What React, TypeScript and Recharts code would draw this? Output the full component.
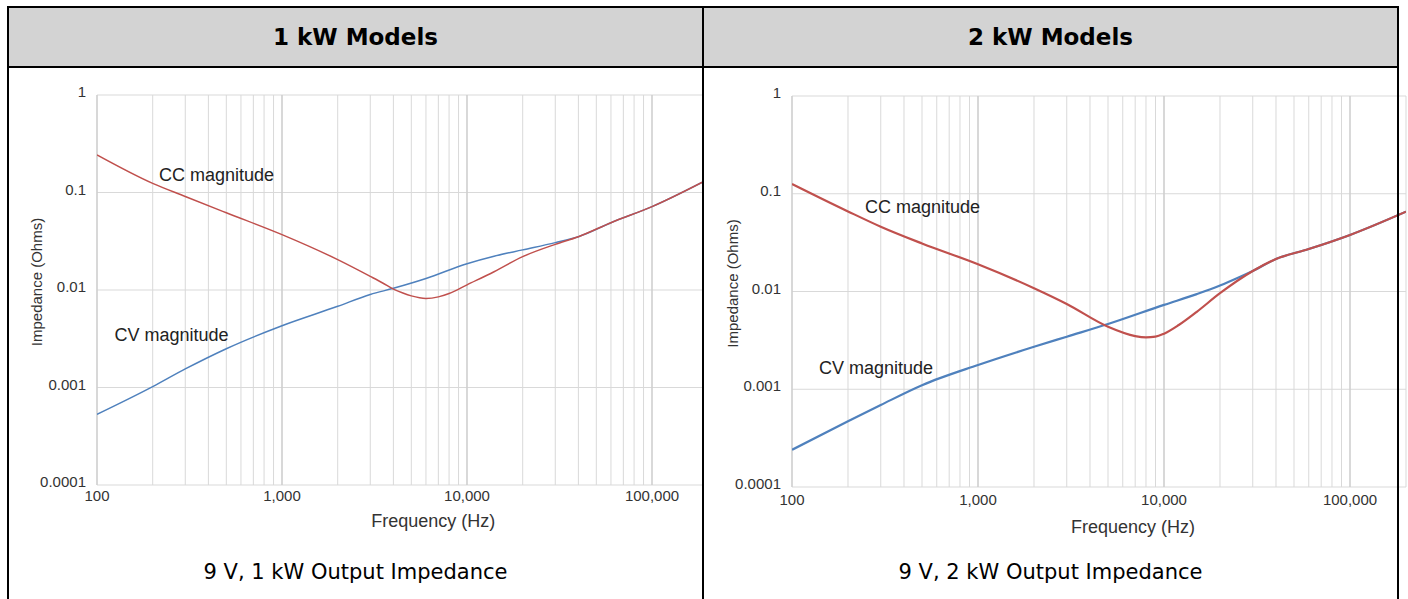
import React from 'react';
import { LineChart, Line, XAxis, YAxis, CartesianGrid, ReferenceDot, ReferenceLine } from 'recharts';

// ---- axis ticks ----
const xTicks = [
  100, 200, 300, 400, 500, 600, 700, 800, 900,
  1000, 2000, 3000, 4000, 5000, 6000, 7000, 8000, 9000,
  10000, 20000, 30000, 40000, 50000, 60000, 70000, 80000, 90000,
  100000, 200000,
];
const xLabelTicks = [100, 1000, 10000, 100000];
const yTicks = [0.0001, 0.001, 0.01, 0.1, 1];

// ---- 1 kW model ----
const cc1kFreq = [100, 200, 300, 500, 1000, 2000, 3000, 3500, 4000, 4500, 5000, 6000, 7000, 8000, 10000, 14000, 20000, 30000, 40000, 60000, 100000, 200000];
const cc1kZ = [0.243, 0.124, 0.091, 0.062, 0.037, 0.0205, 0.0138, 0.0118, 0.0102, 0.0093, 0.0087, 0.0082, 0.0085, 0.0092, 0.0113, 0.0154, 0.022, 0.0294, 0.0352, 0.049, 0.0716, 0.136];
const cv1kFreq = [100, 200, 300, 500, 1000, 2000, 3000, 4000, 6000, 10000, 14000, 20000, 30000, 40000, 60000, 100000, 200000];
const cv1kZ = [0.00053, 0.00102, 0.00155, 0.0025, 0.0043, 0.0068, 0.009, 0.0104, 0.0131, 0.0186, 0.0222, 0.0258, 0.0306, 0.0352, 0.049, 0.0716, 0.136];

// ---- 2 kW model ----
const cc2kFreq = [100, 200, 300, 500, 1000, 2000, 3000, 5000, 7000, 8000, 9000, 10000, 12000, 15000, 20000, 30000, 40000, 60000, 100000, 200000];
const cc2kZ = [0.126, 0.066, 0.046, 0.031, 0.019, 0.0108, 0.00745, 0.00436, 0.0035, 0.0034, 0.00345, 0.0037, 0.00454, 0.0062, 0.0096, 0.0162, 0.0215, 0.0272, 0.0379, 0.0656];
const cv2kFreq = [100, 200, 300, 500, 1000, 2000, 3000, 5000, 10000, 15000, 20000, 25000, 30000, 40000, 60000, 100000, 200000];
const cv2kZ = [0.00024, 0.00047, 0.00069, 0.0011, 0.00177, 0.00272, 0.00345, 0.00465, 0.0073, 0.0094, 0.0115, 0.0138, 0.0162, 0.0215, 0.0272, 0.0379, 0.0656];

const toRows = (f: number[], z: number[]) => f.map((v, i) => ({ f: v, z: z[i] }));

const RED = '#c0504d';
const BLUE = '#4f81bd';
const TXT = '#333333';
const FONT = '"Liberation Sans", Arial, sans-serif';

const XTick = (props: any) => {
  const { x, y, payload, off } = props;
  if (!xLabelTicks.includes(payload.value)) return null;
  return (
    <text x={x} y={y + off} textAnchor="middle" fontSize={15} fontFamily={FONT} fill={TXT}>
      {Number(payload.value).toLocaleString('en-US')}
    </text>
  );
};

const YTick = (props: any) => {
  const { x, y, payload } = props;
  return (
    <text x={x - 11} y={y + 2} textAnchor="end" fontSize={15} fontFamily={FONT} fill={TXT}>
      {String(payload.value)}
    </text>
  );
};

type PanelProps = {
  cc: { f: number; z: number }[];
  cv: { f: number; z: number }[];
  width: number;
  marginTop: number;
  marginRight: number;
  marginBottom: number;
  strokeW: number;
  xTickOff: number;
  ccLabel: [number, number];
  cvLabel: [number, number];
  yTitleX: number;
  xTitleDx: number;
  xTitleY: number;
};

const Panel = (p: PanelProps) => (
  <LineChart
    width={p.width}
    height={531}
    margin={{ top: p.marginTop, right: p.marginRight, bottom: p.marginBottom, left: 0 }}
  >
    <CartesianGrid stroke="#d9d9d9" strokeWidth={1} />
    {xLabelTicks.map((t) => (
      <ReferenceLine key={t} x={t} stroke="#cccccc" strokeWidth={1.2} />
    ))}
    <XAxis
      dataKey="f"
      type="number"
      scale="log"
      domain={[100, 200000]}
      ticks={xTicks}
      interval={0}
      allowDataOverflow
      axisLine={false}
      tickLine={false}
      tickSize={0}
      tickMargin={0}
      height={60}
      tick={<XTick off={p.xTickOff} />}
      label={{
        content: (lp: any) => {
          const vb = lp.viewBox;
          return (
            <text
              x={vb.x + vb.width / 2 + p.xTitleDx}
              y={vb.y + p.xTitleY}
              textAnchor="middle"
              fontSize={18}
              fontFamily={FONT}
              fill={TXT}
            >
              Frequency (Hz)
            </text>
          );
        },
      }}
    />
    <YAxis
      type="number"
      scale="log"
      domain={[0.0001, 1]}
      ticks={yTicks}
      interval={0}
      allowDataOverflow
      axisLine={false}
      tickLine={false}
      tickSize={0}
      tickMargin={0}
      width={88}
      tick={<YTick />}
      label={{
        content: (lp: any) => {
          const vb = lp.viewBox;
          const cx = p.yTitleX;
          const cy = vb.y + vb.height / 2 - 8;
          return (
            <text
              x={cx}
              y={cy}
              transform={`rotate(-90 ${cx} ${cy})`}
              textAnchor="middle"
              dominantBaseline="central"
              fontSize={15}
              fontFamily={FONT}
              fill={TXT}
            >
              Impedance (Ohms)
            </text>
          );
        },
      }}
    />
    <Line
      data={p.cv}
      dataKey="z"
      type="monotone"
      stroke={BLUE}
      strokeWidth={p.strokeW}
      dot={false}
      activeDot={false}
      isAnimationActive={false}
    />
    <Line
      data={p.cc}
      dataKey="z"
      type="monotone"
      stroke={RED}
      strokeWidth={p.strokeW}
      dot={false}
      activeDot={false}
      isAnimationActive={false}
    />
    <ReferenceDot
      x={p.ccLabel[0]}
      y={p.ccLabel[1]}
      r={0}
      stroke="none"
      fill="none"
      label={{ value: 'CC magnitude', position: 'center', fontSize: 18, fontFamily: FONT, fill: '#222' }}
    />
    <ReferenceDot
      x={p.cvLabel[0]}
      y={p.cvLabel[1]}
      r={0}
      stroke="none"
      fill="none"
      label={{ value: 'CV magnitude', position: 'center', fontSize: 18, fontFamily: FONT, fill: '#222' }}
    />
  </LineChart>
);

const abs = (s: React.CSSProperties): React.CSSProperties => ({ position: 'absolute', ...s });

export default function App() {
  return (
    <div style={abs({ left: 0, top: 0, width: 1408, height: 599, background: '#fff', overflow: 'hidden' })}>
      {/* header background */}
      <div style={abs({ left: 9, top: 8, width: 1388, height: 58, background: '#d3d3d3' })} />
      <div
        style={abs({
          left: 9, top: 8, width: 693, height: 58, display: 'flex', alignItems: 'center', justifyContent: 'center',
          fontFamily: '"DejaVu Sans", Verdana, sans-serif', fontWeight: 'bold', fontSize: 23, color: '#000',
        })}
      >
        1 kW Models
      </div>
      <div
        style={abs({
          left: 704, top: 8, width: 693, height: 58, display: 'flex', alignItems: 'center', justifyContent: 'center',
          fontFamily: '"DejaVu Sans", Verdana, sans-serif', fontWeight: 'bold', fontSize: 23, color: '#000',
        })}
      >
        2 kW Models
      </div>

      {/* left chart */}
      <div style={abs({ left: 9, top: 68, width: 693, height: 531, overflow: 'hidden' })}>
        <Panel
          cc={toRows(cc1kFreq, cc1kZ)}
          cv={toRows(cv1kFreq, cv1kZ)}
          width={700}
          marginTop={27}
          marginRight={1.3}
          marginBottom={54}
          strokeW={1.5}
          xTickOff={16}
          ccLabel={[442.6, 0.151]}
          cvLabel={[252.7, 0.003455]}
          yTitleX={27.5}
          xTitleDx={31}
          xTitleY={42}
        />
      </div>
      {/* right chart */}
      <div style={abs({ left: 704, top: 68, width: 704, height: 531 })}>
        <Panel
          cc={toRows(cc2kFreq, cc2kZ)}
          cv={toRows(cv2kFreq, cv2kZ)}
          width={704}
          marginTop={28}
          marginRight={2}
          marginBottom={52}
          strokeW={2.2}
          xTickOff={18}
          ccLabel={[503, 0.0732]}
          cvLabel={[282.9, 0.00165]}
          yTitleX={28}
          xTitleDx={34}
          xTitleY={46}
        />
      </div>

      {/* captions */}
      <div
        style={abs({
          left: 9, top: 558, width: 693, height: 28, display: 'flex', alignItems: 'center', justifyContent: 'center',
          fontFamily: '"DejaVu Sans", Verdana, sans-serif', fontSize: 21, color: '#000',
        })}
      >
        9 V, 1 kW Output Impedance
      </div>
      <div
        style={abs({
          left: 704, top: 558, width: 693, height: 28, display: 'flex', alignItems: 'center', justifyContent: 'center',
          fontFamily: '"DejaVu Sans", Verdana, sans-serif', fontSize: 21, color: '#000',
        })}
      >
        9 V, 2 kW Output Impedance
      </div>

      {/* table borders */}
      <div style={abs({ left: 7, top: 6, width: 1392, height: 2, background: '#000' })} />
      <div style={abs({ left: 7, top: 66, width: 1392, height: 2, background: '#000' })} />
      <div style={abs({ left: 7, top: 6, width: 2, height: 593, background: '#000' })} />
      <div style={abs({ left: 702, top: 6, width: 2, height: 593, background: '#000' })} />
      <div style={abs({ left: 1397, top: 6, width: 2, height: 593, background: '#000' })} />
    </div>
  );
}
